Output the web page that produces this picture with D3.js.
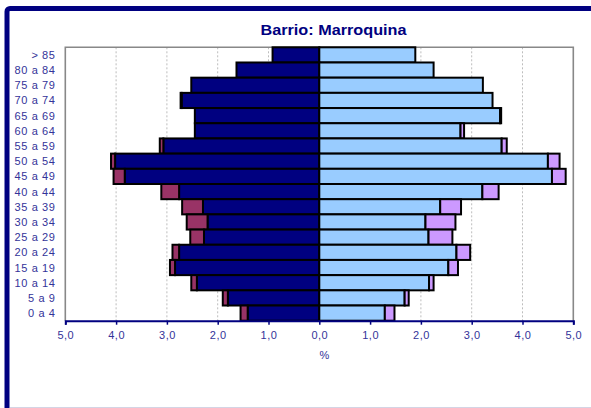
<!DOCTYPE html>
<html><head><meta charset="utf-8">
<script src="https://cdn.jsdelivr.net/npm/d3@7"></script>
<style>
html,body{margin:0;padding:0;background:#fff;}
svg{display:block;font-family:Arial,"Liberation Sans",sans-serif;}
</style></head>
<body>
<svg id="chart" width="591" height="408"></svg>
<script>
const categories = ["> 85","80 a 84","75 a 79","70 a 74","65 a 69","60 a 64","55 a 59","50 a 54","45 a 49","40 a 44","35 a 39","30 a 34","25 a 29","20 a 24","15 a 19","10 a 14","5 a 9","0 a 4"];
const menNational   = [0.92,1.63,2.52,2.71,2.45,2.45,3.07,4.02,3.83,2.76,2.29,2.20,2.27,2.76,2.84,2.41,1.80,1.41];
const menForeign    = [0.00,0.00,0.00,0.02,0.00,0.00,0.07,0.08,0.22,0.35,0.41,0.41,0.27,0.13,0.10,0.11,0.10,0.14];
const womenNational = [1.89,2.25,3.22,3.41,3.56,2.78,3.59,4.50,4.58,3.21,2.38,2.09,2.15,2.70,2.54,2.16,1.68,1.29];
const womenForeign  = [0.00,0.00,0.00,0.00,0.02,0.07,0.10,0.23,0.27,0.32,0.41,0.59,0.47,0.27,0.19,0.09,0.08,0.19];
const tickValues = [-5,-4,-3,-2,-1,0,1,2,3,4,5];
const titleText = "Barrio: Marroquina";
const axisTitle = "%";

(function(){
const svg = d3.select("#chart");
const pLeft = 65.3, pRight = 573.3, pTop = 47.3, pBottom = 320.7;
const x = d3.scaleLinear().domain([-5,5]).range([pLeft,pRight]);
const y = d3.scaleBand().domain(categories).range([pTop,pBottom]).padding(0);

// frame
svg.append("rect").attr("x",7).attr("y",8.5).attr("width",800).attr("height",600)
  .attr("rx",3).attr("fill","none").attr("stroke","#000080").attr("stroke-width",5);
svg.append("line").attr("x1",10).attr("x2",591).attr("y1",407.5).attr("y2",407.5)
  .attr("stroke","#d4d4e4").attr("stroke-width",1);

// title
svg.append("text").attr("x",333.5).attr("y",34.5).attr("text-anchor","middle")
  .attr("font-size",14).attr("font-weight","bold").attr("fill","#000080")
  .attr("textLength",146).attr("lengthAdjust","spacingAndGlyphs").text(titleText);

// grid
svg.append("g").selectAll("line").data(tickValues.filter(d=>Math.abs(d)<5)).join("line")
  .attr("x1",d=>x(d)).attr("x2",d=>x(d)).attr("y1",pTop).attr("y2",pBottom)
  .attr("stroke","#bdbdbd").attr("stroke-width",1).attr("stroke-dasharray","2,2");

// plot border (left, top, right)
svg.append("path").attr("d",`M${pLeft},${pBottom} V${pTop} H${pRight} V${pBottom}`)
  .attr("fill","none").attr("stroke","#888").attr("stroke-width",1.6);

// bars
const rows = categories.map((c,i)=>({c, mn:menNational[i], mf:menForeign[i], wn:womenNational[i], wf:womenForeign[i]}));
const segs = [];
rows.forEach(r=>{
  segs.push({c:r.c, x0:-r.mn, x1:0, fill:"#000080"});
  if (r.mf>0) segs.push({c:r.c, x0:-r.mn-r.mf, x1:-r.mn, fill:"#993366"});
  segs.push({c:r.c, x0:0, x1:r.wn, fill:"#99ccff"});
  if (r.wf>0) segs.push({c:r.c, x0:r.wn, x1:r.wn+r.wf, fill:"#cc99ff"});
});
svg.append("g").selectAll("rect").data(segs).join("rect")
  .attr("x",d=>x(d.x0)).attr("width",d=>x(d.x1)-x(d.x0))
  .attr("y",d=>y(d.c)).attr("height",y.bandwidth())
  .attr("fill",d=>d.fill).attr("stroke","#000").attr("stroke-width",2);

// x axis
const xAxis = d3.axisBottom(x).tickValues(tickValues).tickSize(4)
  .tickFormat(d=>d3.format(".1f")(Math.abs(d)).replace(".",","));
const gx = svg.append("g").attr("transform",`translate(0,${pBottom})`).call(xAxis);
gx.select(".domain").attr("stroke","#000080").attr("stroke-width",2);
gx.selectAll(".tick line").attr("stroke","#000080").attr("stroke-width",1.5);
gx.selectAll(".tick text").attr("fill","#333399").attr("font-size",11)
  .attr("font-family","Arial, 'Liberation Sans', sans-serif").attr("letter-spacing","0.5px")
  .attr("y",0).attr("dy",0).attr("transform","translate(0,18.5)");

svg.append("text").attr("x",324.5).attr("y",359).attr("text-anchor","middle")
  .attr("font-size",11).attr("fill","#333399").text(axisTitle);

// y labels
svg.append("g").selectAll("text").data(categories).join("text")
  .attr("x",55.5).attr("y",d=>y(d)+y.bandwidth()/2+4)
  .attr("text-anchor","end").attr("font-size",11).attr("letter-spacing","0.6px")
  .attr("fill","#333399").text(d=>d);
})();
</script>
</body></html>
